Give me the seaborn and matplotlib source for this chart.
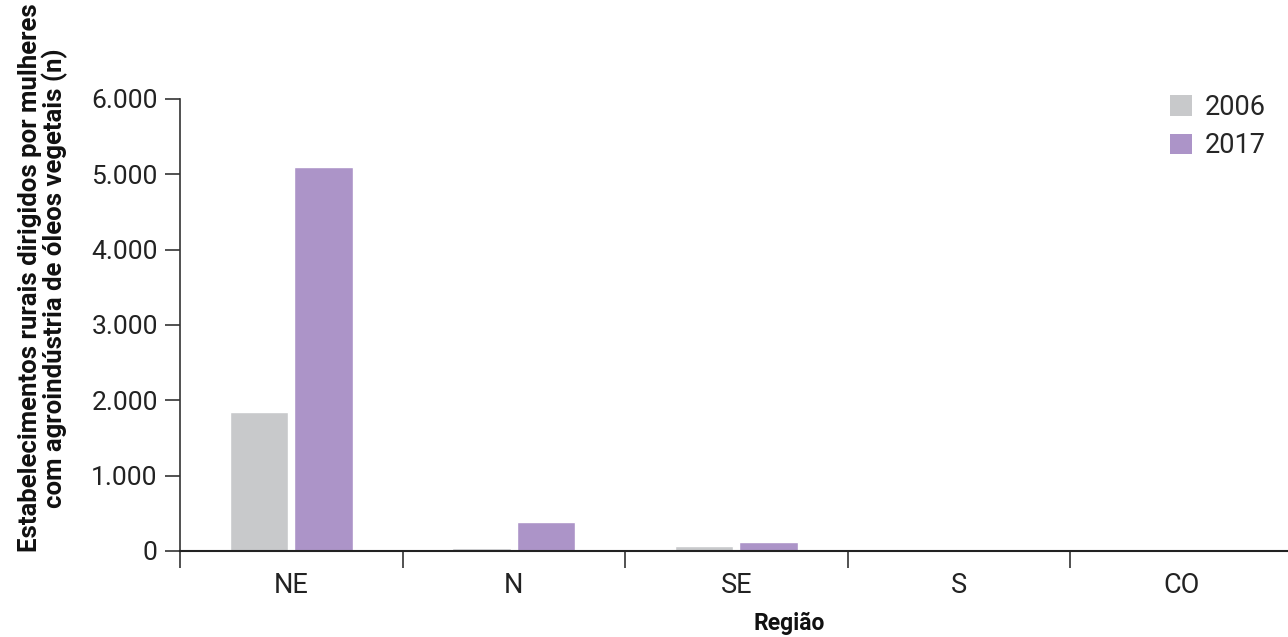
import matplotlib
matplotlib.use("Agg")
import pandas as pd
import matplotlib.pyplot as plt
import seaborn as sns
from matplotlib.ticker import FuncFormatter, FixedLocator
from matplotlib.patches import Patch

# Dados
regioes = ["NE", "N", "SE", "S", "CO"]
valores_2006 = [1850, 35, 62, 22, 0]
valores_2017 = [5100, 381, 115, 8, 0]
anos = ["2006", "2017"]
cores = ["#c8c9cb", "#ac94c8"]

df = pd.DataFrame({
    "Região": regioes * 2,
    "Ano": [anos[0]] * len(regioes) + [anos[1]] * len(regioes),
    "Valor": valores_2006 + valores_2017,
})

sns.set_style("white")
plt.rcParams["font.family"] = ["Roboto", "DejaVu Sans"]

fig = plt.figure(figsize=(12.88, 6.37), dpi=100)
ax = fig.add_axes([180 / 1288, 86 / 637, 1112.5 / 1288, 452 / 637])

sns.barplot(data=df, x="Região", y="Valor", hue="Ano", order=regioes,
            hue_order=anos, palette=cores, width=0.58, gap=0.1,
            saturation=1, ax=ax, legend=False)

ax.set_xlim(-0.5, len(regioes) - 0.5)
ax.set_ylim(0, 6000)
ax.set_yticks([0, 1000, 2000, 3000, 4000, 5000, 6000])
ax.yaxis.set_major_formatter(FuncFormatter(lambda v, p: f"{int(v):,}".replace(",", ".")))

# ticks nas fronteiras das categorias
ax.xaxis.set_minor_locator(FixedLocator([i - 0.5 for i in range(len(regioes) + 1)]))
ax.tick_params(axis="x", which="major", length=0, labelsize=19.5, pad=15, colors="#222222")
ax.tick_params(axis="x", which="minor", bottom=True, length=12, width=1.2,
               color="#333333", direction="out")
ax.tick_params(axis="y", which="major", length=11, width=1.2, color="#333333",
               labelsize=19, pad=5, labelcolor="#222222", left=True)

for s in ["top", "right"]:
    ax.spines[s].set_visible(False)
ax.spines["left"].set_color("#333333")
ax.spines["left"].set_linewidth(1.2)
ax.spines["bottom"].set_color("#222222")
ax.spines["bottom"].set_linewidth(1.5)

ax.set_xlabel("Região", fontsize=16.5, fontweight="bold", color="#111111")
ax.xaxis.set_label_coords(0.548, -0.135)
ax.set_ylabel("Estabelecimentos rurais dirigidos por mulheres\ncom agroindústria de óleos vegetais (n)",
              fontsize=18.5, fontweight="bold", linespacing=1.0, color="#111111",
              va="center", ha="center")
ax.yaxis.set_label_coords(-0.123, 0.604)

handles = [Patch(facecolor=c, edgecolor="none") for c in cores]
ax.legend(handles, anos, loc="upper right", bbox_to_anchor=(0.986, 1.035), frameon=False,
          fontsize=19.5, handlelength=0.8, handleheight=0.8, handletextpad=0.5,
          labelspacing=0.42, borderaxespad=0)

plt.savefig("out.png", dpi=100)
